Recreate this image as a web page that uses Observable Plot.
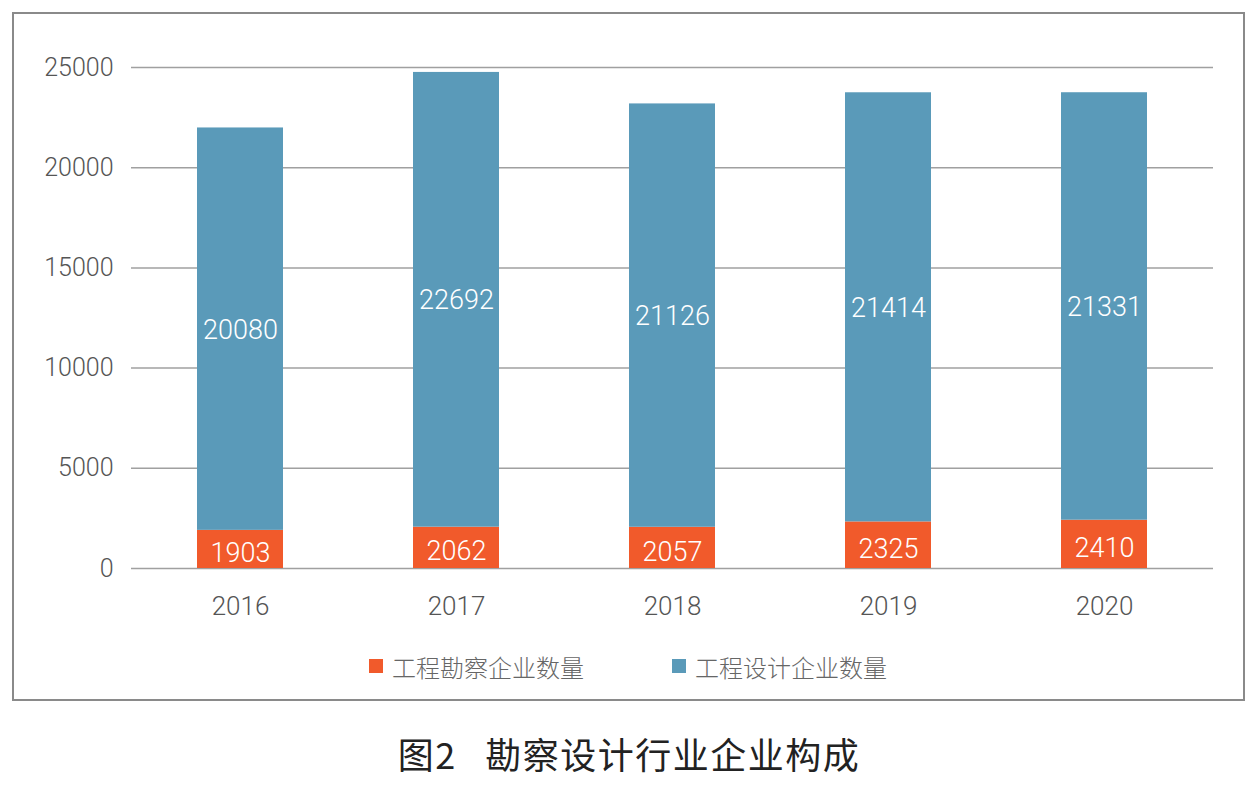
<!DOCTYPE html>
<html><head><meta charset="utf-8">
<script src="https://cdn.jsdelivr.net/npm/d3@7"></script>
<script src="https://cdn.jsdelivr.net/npm/@observablehq/plot@0.6"></script>
<style>
body{margin:0;background:#fff;width:1258px;height:801px;position:relative;overflow:hidden;font-family:Roboto,"Noto Sans CJK SC",sans-serif;}
#frame{position:absolute;left:12px;top:12px;width:1229px;height:685px;border:2px solid #8a8a8a;}
#chart{position:absolute;left:0;top:0;}
#legend{position:absolute;top:651px;left:0;width:1258px;height:30px;font-family:"Noto Sans CJK SC",sans-serif;font-size:24px;color:#666;font-weight:300;}
.item{position:absolute;top:0;display:flex;align-items:center;height:30px;}
.sw{width:14px;height:14px;margin-right:9px;}
#title{position:absolute;top:727px;left:0;width:1258px;text-align:center;font-family:"Noto Sans CJK SC",sans-serif;font-size:36px;color:#222;letter-spacing:1.5px;}
</style></head>
<body>
<div id="frame"></div>
<div id="chart"></div>
<div id="legend"></div>
<div id="title">图2&nbsp;&nbsp;&nbsp;勘察设计行业企业构成</div>
<script>
const years = ["2016","2017","2018","2019","2020"];
const surveyCounts = [1903, 2062, 2057, 2325, 2410];
const designCounts = [20080, 22692, 21126, 21414, 21331];
const seriesNames = ["工程勘察企业数量", "工程设计企业数量"];
const seriesColors = ["#f15a2b", "#5a9ab9"];
const yTicks = [0, 5000, 10000, 15000, 20000, 25000];

const data = [];
years.forEach((yr, i) => {
  data.push({year: yr, series: seriesNames[0], value: surveyCounts[i]});
  data.push({year: yr, series: seriesNames[1], value: designCounts[i]});
});

const plot = Plot.plot({
  width: 1258,
  height: 640,
  marginTop: 67,
  marginBottom: 72,
  marginLeft: 131,
  marginRight: 45,
  style: {fontFamily: "Roboto, sans-serif", fontSize: "25px", fontWeight: 300, color: "#555", background: "transparent"},
  x: {domain: years, paddingInner: 0.6, paddingOuter: 0.3, label: null, tickSize: 0, tickPadding: 28},
  y: {domain: [0, 25000], ticks: yTicks, label: null, tickSize: 0, tickPadding: 18},
  color: {domain: seriesNames, range: seriesColors},
  marks: [
    Plot.gridY(yTicks, {stroke: "#a0a0a0", strokeOpacity: 1, strokeWidth: 1.5}),
    Plot.barY(data, {x: "year", y: "value", fill: "series", order: seriesNames}),
    Plot.text(data, Plot.stackY({x: "year", y: "value", z: "series", order: seriesNames, text: d => d.series === seriesNames[1] ? String(d.value) : null, fill: "white", fontSize: 27, fontWeight: 300, dy: 1})),
    Plot.text(data, Plot.stackY({filter: d => d.series === seriesNames[0], x: "year", y: "value", text: d => String(d.value), fill: "white", fontSize: 27, fontWeight: 300, dy: 4})),
    Plot.axisY({ticks: yTicks, tickSize: 0, tickPadding: 18, tickFormat: d => String(d), fontSize: 25, fill: "#555"}),
    Plot.axisX({tickSize: 0, tickPadding: 28, fontSize: 26, fill: "#555"})
  ]
});
document.getElementById("chart").appendChild(plot);

const legend = document.getElementById("legend");
const legendX = [369, 672];
seriesNames.forEach((name, i) => {
  const it = document.createElement("div");
  it.className = "item";
  it.style.left = legendX[i] + "px";
  const sw = document.createElement("div");
  sw.className = "sw";
  sw.style.background = seriesColors[i];
  const tx = document.createElement("span");
  tx.textContent = name;
  it.appendChild(sw); it.appendChild(tx);
  legend.appendChild(it);
});
</script>
</body></html>
